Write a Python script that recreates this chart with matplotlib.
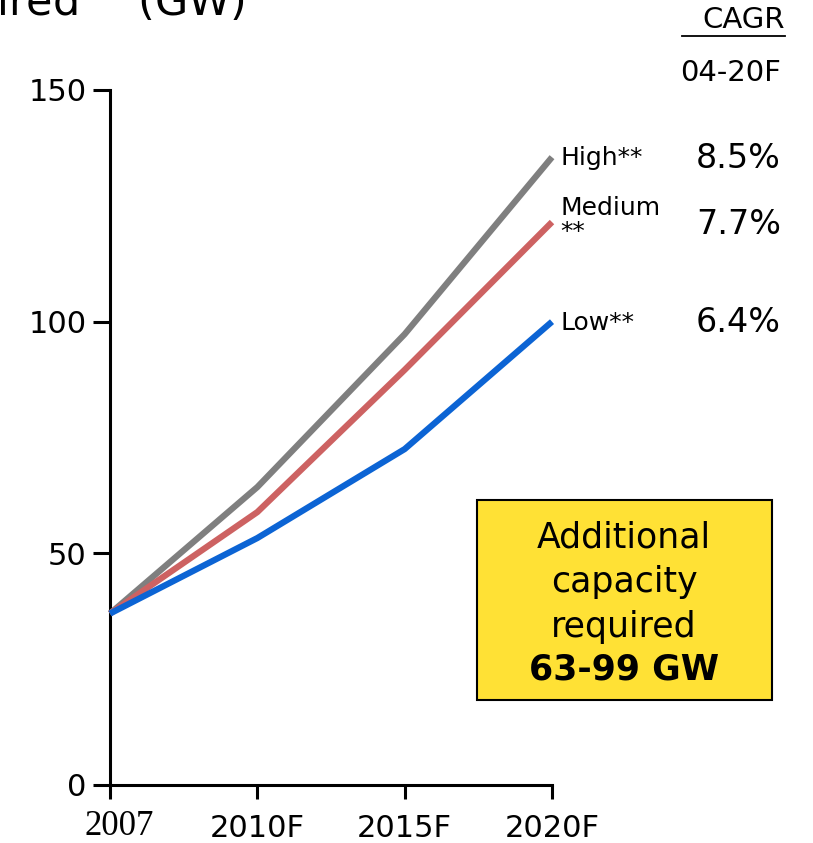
import matplotlib.pyplot as plt
import matplotlib.transforms as mtransforms
import numpy as np

years = ["2007", "2010F", "2015F", "2020F"]
high = [37, 64.3, 97.3, 135.5]
medium = [37, 58.9, 89.6, 121.5]
low = [37, 53.3, 72.5, 100]
scenarios = ["High**", "Medium\n**", "Low**"]
cagr = ["8.5%", "7.7%", "6.4%"]
colors = ["#7f7f7f", "#cd6262", "#0c64d4"]

fig = plt.figure(figsize=(8.13, 8.43), dpi=100)
ax = fig.add_axes([110 / 813, 58 / 843, 442 / 813, 695 / 843])

x = np.arange(len(years))
for vals, c in zip([high, medium, low], colors):
    ax.plot(x, vals, color=c, linewidth=4.5, solid_capstyle="butt", clip_on=False, zorder=3)

ax.set_xlim(0, 3)
ax.set_ylim(0, 150)
ax.set_yticks([0, 50, 100, 150])
ax.set_xticks(x)
ax.set_xticklabels(years)
for sp in ["top", "right"]:
    ax.spines[sp].set_visible(False)
for sp in ["left", "bottom"]:
    ax.spines[sp].set_linewidth(2.2)
ax.tick_params(axis="y", length=12, width=2.2, labelsize=22, pad=5)
ax.tick_params(axis="x", length=10, width=2.2, labelsize=22, pad=11)
first = ax.get_xticklabels()[0]
first.set_family("Liberation Serif")
first.set_fontsize(25)
# the first label sits a little right of its tick in the source
first.set_transform(first.get_transform() +
                    mtransforms.ScaledTranslation(9 / 100, 4 / 100, fig.dpi_scale_trans))

# end labels
label_y = [158, 220, 323]
for lab, ly in zip(scenarios, label_y):
    fig.text(560 / 813, 1 - ly / 843, lab, fontsize=18, va="center", ha="left",
             linespacing=1.05)
ly_val = [158, 225, 323]
for val, ly in zip(cagr, ly_val):
    fig.text(781 / 813, 1 - ly / 843, val, fontsize=24, va="center", ha="right")

fig.text(785 / 813, 1 - 20 / 843, "CAGR", fontsize=21, va="center", ha="right")
fig.add_artist(plt.Line2D([682 / 813, 785 / 813], [1 - 36 / 843, 1 - 36 / 843],
                          color="black", linewidth=1.3))
fig.text(781 / 813, 1 - 73 / 843, "04-20F", fontsize=21, va="center", ha="right")

# title, clipped at the top edge as in the source
fig.text(245 / 813, 1 - 16 / 843, "Capacity required$^{*}$   (GW)", fontsize=31,
         va="baseline", ha="right")

# yellow box
box = plt.Rectangle((477 / 813, 1 - 700 / 843), 295 / 813, 200 / 843,
                    transform=fig.transFigure, facecolor="#ffe135",
                    edgecolor="black", linewidth=1.5)
fig.add_artist(box)
box_lines = ["Additional", "capacity", "required"]
for t, ty in zip(box_lines, [537, 582, 627]):
    fig.text(624 / 813, 1 - ty / 843, t, fontsize=25, ha="center", va="center")
fig.text(624 / 813, 1 - 669 / 843, "63-99 GW", fontsize=25, ha="center",
         va="center", fontweight="bold")

fig.savefig("out.png", dpi=100)
